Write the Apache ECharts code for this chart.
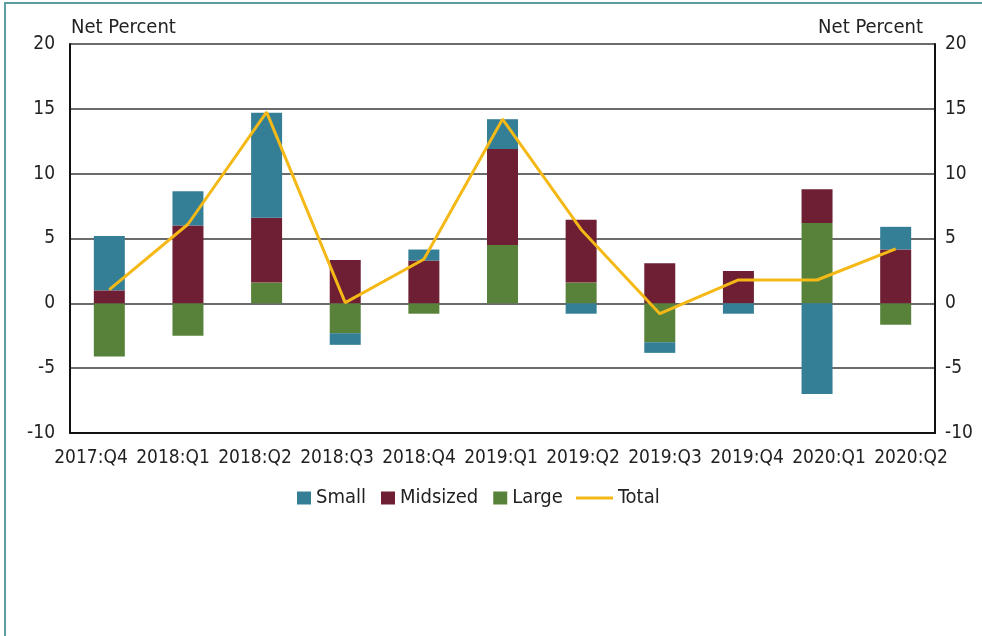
<!DOCTYPE html>
<html><head><meta charset="utf-8">
<script src="https://cdn.jsdelivr.net/npm/echarts@6/dist/echarts.min.js"></script>
<style>
html,body{margin:0;padding:0;background:#fff}
#wrap{position:relative;width:982px;height:636px}
#c{width:982px;height:636px}
#frame{position:absolute;left:4px;top:2px;right:0;bottom:0;border-left:2px solid #5c9ea2;border-top:2px solid #5c9ea2;pointer-events:none}
</style></head>
<body>
<div id="wrap"><div id="c"></div><div id="frame"></div></div>
<script>
const categories = ['2017:Q4','2018:Q1','2018:Q2','2018:Q3','2018:Q4','2019:Q1','2019:Q2','2019:Q3','2019:Q4','2020:Q1','2020:Q2'];
const large    = [-4.1, -2.5, 1.6, -2.3, -0.8, 4.5, 1.6, -3.0, 0, 6.2, -1.65];
const midsized = [1.0, 6.0, 5.0, 3.35, 3.3, 7.4, 4.85, 3.1, 2.5, 2.6, 4.15];
const small    = [4.2, 2.65, 8.1, -0.9, 0.85, 2.3, -0.8, -0.82, -0.8, -7.0, 1.75];
const total    = [1.05, 6.1, 14.75, 0.05, 3.4, 14.2, 5.7, -0.8, 1.8, 1.8, 4.2];
const yTicks = {min: -10, max: 20, interval: 5};

const FONT = "'DejaVu Sans Condensed', 'DejaVu Sans'";
const TXT = '#222';
const chart = echarts.init(document.getElementById('c'), null, {renderer: 'canvas'});
const barW = 31;
chart.setOption({
  animation: false,
  textStyle: {fontFamily: FONT, color: TXT},
  title: [
    {text: 'Net Percent', left: 71, top: 18, padding: 0,
     textStyle: {fontFamily: FONT, fontSize: 20, fontWeight: 'normal', color: TXT}},
    {text: 'Net Percent', right: 59, top: 18, padding: 0,
     textStyle: {fontFamily: FONT, fontSize: 20, fontWeight: 'normal', color: TXT}}
  ],
  grid: [
    {left: 70, right: 47, top: 44, bottom: 203, containLabel: false},
    {left: 50, right: 30, top: 44, bottom: 203, containLabel: false}
  ],
  legend: [
    {data: ['Small', 'Midsized', 'Large'], left: 297, top: 488, itemWidth: 14, itemHeight: 13, itemGap: 15,
     icon: 'rect', textStyle: {fontFamily: FONT, fontSize: 20, color: TXT}, padding: 0},
    {data: ['Total'], left: 576, top: 488, itemWidth: 37, itemHeight: 13, icon: 'path://M0,0H40V3H0Z',
     textStyle: {fontFamily: FONT, fontSize: 20, color: TXT}, padding: 0}
  ],
  xAxis: [
    {type: 'category', data: categories, gridIndex: 0,
     axisLine: {onZero: false, lineStyle: {color: '#111', width: 2}},
     axisTick: {show: false},
     axisLabel: {show: false},
     splitLine: {show: false}},
    {type: 'category', data: categories, gridIndex: 1,
     axisLine: {show: false}, axisTick: {show: false},
     axisLabel: {interval: 0, margin: 16, fontFamily: FONT, fontSize: 19, color: TXT},
     splitLine: {show: false}}
  ],
  yAxis: [
    {type: 'value', gridIndex: 0, min: yTicks.min, max: yTicks.max, interval: yTicks.interval, position: 'left',
     axisLine: {show: true, lineStyle: {color: '#111', width: 2}},
     axisTick: {show: false},
     axisLabel: {margin: 15, fontFamily: FONT, fontSize: 19, color: TXT},
     splitLine: {show: true, lineStyle: {color: '#3a3a3a', width: 1.6}}},
    {type: 'value', gridIndex: 0, min: yTicks.min, max: yTicks.max, interval: yTicks.interval, position: 'right',
     axisLine: {show: true, lineStyle: {color: '#111', width: 2}},
     axisTick: {show: false},
     axisLabel: {margin: 10, fontFamily: FONT, fontSize: 19, color: TXT},
     splitLine: {show: false}},
    {type: 'value', gridIndex: 1, show: false, min: yTicks.min, max: yTicks.max}
  ],
  series: [
    {name: 'Large', type: 'bar', stack: 'a', data: large, barWidth: barW, itemStyle: {color: '#58823a'}},
    {name: 'Midsized', type: 'bar', stack: 'a', data: midsized, barWidth: barW, itemStyle: {color: '#6e1f33'}},
    {name: 'Small', type: 'bar', stack: 'a', data: small, barWidth: barW, itemStyle: {color: '#357f96'}},
    {name: 'Total', type: 'line', data: total, symbol: 'none', z: 5,
     lineStyle: {color: '#f4b916', width: 3}, itemStyle: {color: '#f4b916'}}
  ]
});
</script>
</body></html>
